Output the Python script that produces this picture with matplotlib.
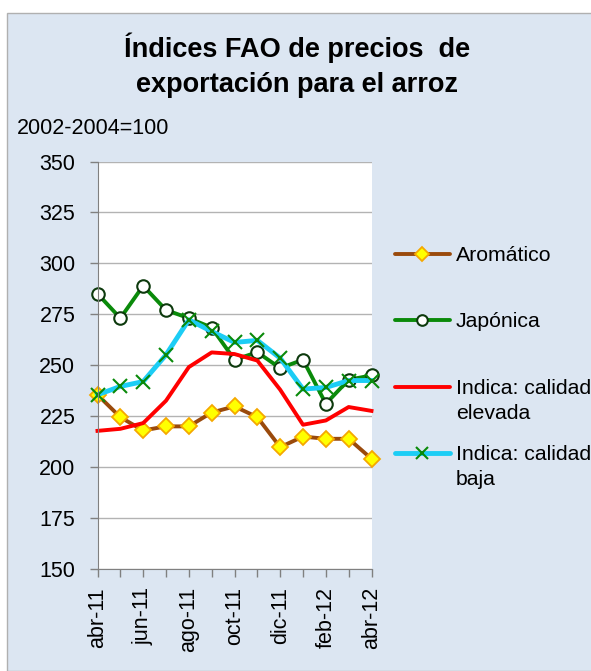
import matplotlib
matplotlib.use("Agg")
import matplotlib.pyplot as plt
from matplotlib.lines import Line2D
from matplotlib.patches import Rectangle

plt.rcParams["font.family"] = ["Liberation Sans", "DejaVu Sans"]

months = ["abr-11", "may-11", "jun-11", "jul-11", "ago-11", "sep-11", "oct-11",
          "nov-11", "dic-11", "ene-12", "feb-12", "mar-12", "abr-12"]
aromatico = [235.5, 224.5, 218, 220, 220, 226.8, 229.8, 224.5, 209.8, 215, 213.9, 213.9, 204.1]
japonica = [285.1, 273.1, 289, 277.1, 273.1, 268.5, 252.7, 256.4, 248.6, 252.7, 231.1, 242.9, 245]
indica_alta = [217.8, 218.8, 221.6, 232.6, 249.1, 256.3, 255.5, 252.3, 238, 220.8, 222.9, 229.5, 227.6]
indica_baja = [235.5, 239.6, 242, 255.1, 272.3, 266.6, 261.2, 262.2, 253.5, 238.3, 239.1, 242.5, 242.5]

W, H = 591, 671
BG = "#dce6f2"

fig = plt.figure(figsize=(W / 100, H / 100), dpi=100)
fig.patch.set_facecolor("white")
fig.patches.append(Rectangle((7 / W, 0), 1, 1 - 13 / H, transform=fig.transFigure,
                             facecolor=BG, edgecolor="#b0b0b0", lw=1, zorder=-1))

ax = fig.add_axes([97.5 / W, 1 - 569 / H, 274 / W, (569 - 161.5) / H])
ax.set_facecolor("white")
x = list(range(len(months)))

styles = [
    (aromatico, "Aromático", dict(color="#9a4a0c", lw=2.8, marker="D", ms=8,
                                  mfc="#ffff00", mec="#f5a800", mew=1.3)),
    (japonica, "Japónica", dict(color="#0a8a0a", lw=2.8, marker="o", ms=9,
                                mfc="white", mec="#0d3a0d", mew=1.5)),
    (indica_alta, "Indica: calidad\nelevada", dict(color="#ff0000", lw=2.8)),
    (indica_baja, "Indica: calidad\nbaja", dict(color="#1ccdf5", lw=3.5, marker="x", ms=10,
                                               mec="#0a8a0a", mew=1.5)),
]
for vals, _, kw in styles:
    ax.plot(x, vals, solid_joinstyle="round", clip_on=False, **kw)

ax.set_ylim(150, 350)
ax.set_yticks(range(150, 351, 25))
ax.set_xlim(0, len(months) - 1)
ax.set_xticks(x)
ax.set_xticklabels([m if i % 2 == 0 else "" for i, m in enumerate(months)], rotation=90)
ax.tick_params(axis="both", labelsize=15.5, colors="#808080", labelcolor="black", length=6, width=1)
ax.tick_params(axis="x", pad=7)
ax.tick_params(axis="y", pad=10)
ax.grid(axis="y", color="#b3b3b3", lw=1)
ax.set_axisbelow(True)
for s in ("top", "right"):
    ax.spines[s].set_visible(False)
for s in ("left", "bottom"):
    ax.spines[s].set_color("#808080")

fig.text(297 / W, 1 - 65 / H, "Índices FAO de precios  de\nexportación para el arroz",
         ha="center", va="center", fontsize=19.5, fontweight="bold", linespacing=1.43)
fig.text(17 / W, 1 - 128 / H, "2002-2004=100", ha="left", va="center", fontsize=15.5)

# legend
leg_y = [254, 320, 387, 453]
for (vals, label, kw), yy in zip(styles, leg_y):
    fy = 1 - yy / H
    lkw = {k: v for k, v in kw.items()}
    fig.add_artist(Line2D([395 / W, 450 / W], [fy, fy], transform=fig.transFigure,
                          color=lkw.pop("color"), lw=lkw.pop("lw"), solid_capstyle="round"))
    if "marker" in lkw:
        fig.add_artist(Line2D([422 / W], [fy], transform=fig.transFigure, ls="none",
                              **{k: (v * 0.85 if k == "ms" else v) for k, v in lkw.items()}))
    fig.text(456 / W, fy + 8 / H, label, ha="left", va="top", fontsize=15.3, linespacing=1.38)

fig.savefig("out.png", dpi=100, facecolor=fig.get_facecolor())
